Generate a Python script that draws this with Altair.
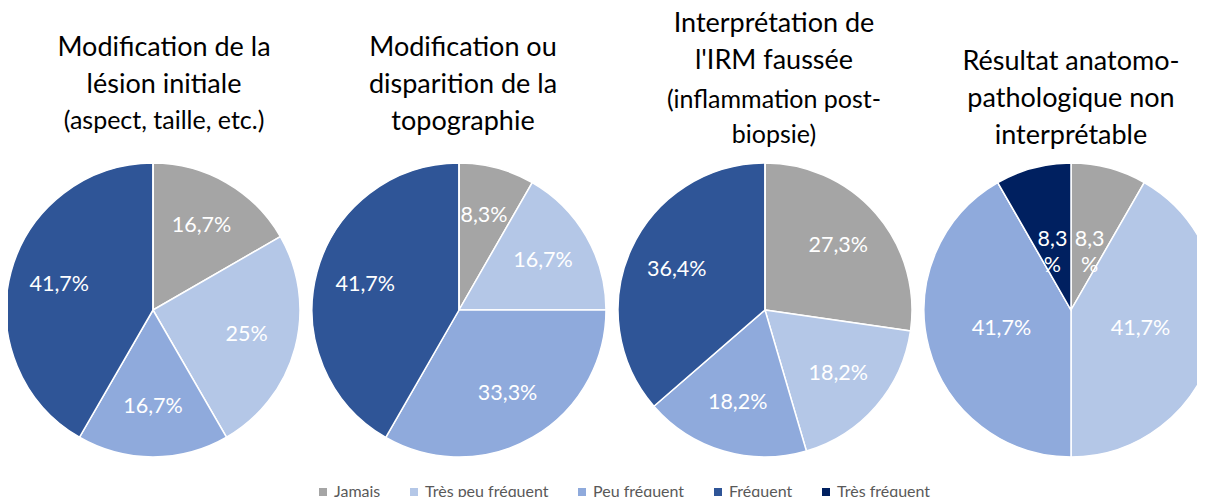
import math
import altair as alt
import pandas as pd

categories = ["Jamais", "Très peu fréquent", "Peu fréquent", "Fréquent", "Très fréquent"]
colors = ["#a5a5a5", "#b4c7e7", "#8faadc", "#2f5597", "#002060"]

pie1_values = [16.7, 25.0, 16.7, 41.7, 0.0]
pie2_values = [8.3, 16.7, 33.3, 41.7, 0.0]
pie3_values = [27.3, 18.2, 18.2, 36.4, 0.0]
pie4_values = [8.3, 41.7, 41.7, 0.0, 8.3]

pie1_labels = ["16,7%", "25%", "16,7%", "41,7%", ""]
pie2_labels = ["8,3%", "16,7%", "33,3%", "41,7%", ""]
pie3_labels = ["27,3%", "18,2%", "18,2%", "36,4%", ""]
pie4_labels = ["8,3\n%", "41,7%", "41,7%", "", "8,3\n%"]

title_main = [
    ["Modification de la", "lésion initiale"],
    ["Modification ou", "disparition de la", "topographie"],
    ["Interprétation de", "l'IRM faussée"],
    ["Résultat anatomo-", "pathologique non", "interprétable"],
]
title_sub = [
    ["(aspect, taille, etc.)"],
    [],
    ["(inflammation post-", "biopsie)"],
    [],
]

rows = []
for p, (vals, labs) in enumerate(zip([pie1_values, pie2_values, pie3_values, pie4_values],
                                     [pie1_labels, pie2_labels, pie3_labels, pie4_labels])):
    for i, (c, v, l) in enumerate(zip(categories, vals, labs)):
        rows.append({"pie": p, "category": c, "order": i, "value": v, "label": l})
df = pd.DataFrame(rows)
one = pd.DataFrame({"k": [0]})

FONT = "Lato"
xscale = alt.Scale(domain=[0, 3], range=[145, 1063])
tscale = alt.Scale(domain=[0, 1], range=[0, 2 * math.pi], zero=False, nice=False)
R = 147
CY = 302

base = (
    alt.Chart(df)
    .transform_stack(stack="value", groupby=["pie"], as_=["t0", "t1"],
                     sort=[alt.SortField("order", order="ascending")], offset="normalize")
    .transform_calculate(tm="(datum.t0 + datum.t1) / 2")
)

arcs = base.mark_arc(outerRadius=R, stroke="white", strokeWidth=1.5).encode(
    x=alt.X("pie:Q", scale=xscale, axis=None, stack=None),
    y=alt.value(CY),
    theta=alt.Theta("t0:Q", scale=tscale, stack=None),
    theta2="t1:Q",
    color=alt.Color(
        "category:N",
        scale=alt.Scale(domain=categories, range=colors),
        legend=alt.Legend(
            orient="none", legendX=307, legendY=476, direction="horizontal", title=None,
            symbolType="square", symbolSize=64, symbolStrokeWidth=0,
            labelFontSize=16, labelColor="#595959", labelFont=FONT,
            columnPadding=25, labelOffset=3,
        ),
    ),
)


def label_layer(filter_expr, r):
    return base.transform_filter(filter_expr).mark_text(
        color="white", fontSize=21.5, font=FONT, lineBreak="\n", baseline="middle", align="center",
        lineHeight=26,
    ).encode(
        x=alt.X("pie:Q", scale=xscale, axis=None),
        y=alt.value(CY),
        theta=alt.Theta("tm:Q", scale=tscale, stack=None),
        radius=alt.value(r),
        text="label:N",
    )


labels_main = label_layer("datum.value > 0 && datum.pie != 3", 97)
labels_last = label_layer("datum.value > 0 && datum.pie == 3", 72)

title_y_main = [40, 40, 16, 54]
title_y_sub = [113, None, 92, None]
title_dx = [11, 4, 9, 0]
title_layers = []
for p in range(4):
    title_layers.append(
        alt.Chart(one).mark_text(
            text=title_main[p], fontSize=27, font=FONT, lineHeight=37, baseline="middle",
            align="center", color="#000000", y=title_y_main[p], dx=title_dx[p],
        ).encode(x=alt.datum(p, scale=xscale))
    )
    if title_sub[p]:
        title_layers.append(
            alt.Chart(one).mark_text(
                text=title_sub[p], fontSize=25, font=FONT, lineHeight=35, baseline="middle",
                align="center", color="#000000", y=title_y_sub[p], dx=title_dx[p],
            ).encode(x=alt.datum(p, scale=xscale))
        )

chart = (
    alt.layer(arcs, labels_main, labels_last, *title_layers)
    .properties(width=1189, height=489, autosize=alt.AutoSizeParams(type="none"), padding=0)
    .configure_view(stroke=None)
)

chart.save("out.html", embed_options={"renderer": "svg", "actions": False})
